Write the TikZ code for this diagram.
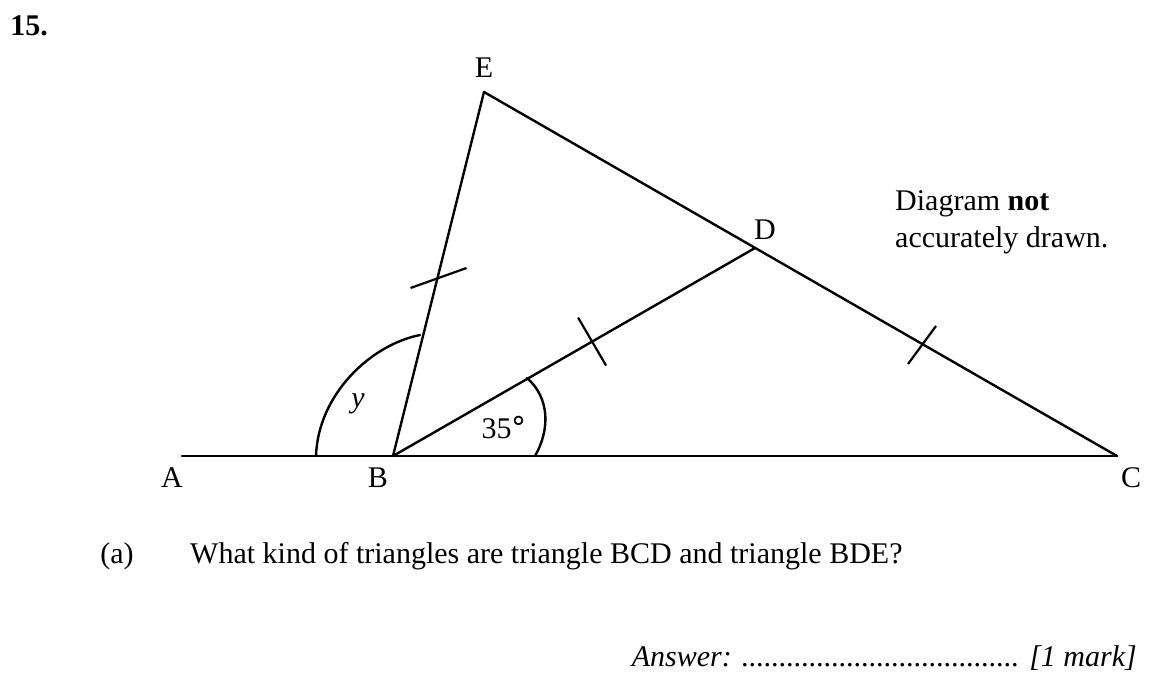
\documentclass[tikz,border=0pt]{standalone}
\usepackage{fontspec}
\setmainfont{Liberation Serif}
\newfontfamily\symfont{DejaVu Sans}
\usetikzlibrary{calc}
\tikzset{
  geo/.style={line width=2.4pt, line cap=round, line join=round},
  lbl/.style={font=\fontsize{30}{36}\selectfont, inner sep=0pt},
  tick/.style={line width=2.2pt},
}
\begin{document}
\begin{tikzpicture}[x=1pt,y=-1pt]
\useasboundingbox (0,0) rectangle (1165,697);
% points
\coordinate (A) at (182,456);
\coordinate (B) at (393,456);
\coordinate (C) at (1117,456);
\coordinate (D) at (755,248);
\coordinate (E) at (484,92);
% lines
\draw[geo] (A) -- (C);
\draw[geo] (B) -- (E) -- (C);
\draw[geo] (B) -- (D);
% ticks
\path (B) -- (E) coordinate[pos=0.5] (mBE);
\path (B) -- (D) coordinate[pos=0.55] (mBD);
\path (D) -- (C) coordinate[pos=0.5] (mDC);
\draw[tick] ($(mBE)+(-28,14)$) -- ($(mBE)+(28,-6)$);
\draw[tick] ($(mBD)+(-14,-24)$) -- ($(mBD)+(14,24)$);
\draw[tick] ($(mDC)+(-28,12)$) -- ($(mDC)+(0,-26)$);
% angle arcs
\draw[geo] (535,456) .. controls (550,430) and (550,398) .. (527,378);
\draw[geo] (316,456) .. controls (318,395) and (370,345) .. (420,335);
% labels
\node[lbl] (lA) at (172,478) {A};
\node[lbl] (lB) at (378,478) {B};
\node[lbl] (lC) at (1131,478) {C};
\node[lbl] (lD) at (765,230) {D};
\node[lbl] (lE) at (484,68) {E};
\node[lbl] (l35) at (504,428) {35\symfont °};
\node[lbl] (ly) at (358,404) {\itshape y};
\node[lbl, anchor=west] (note1) at (895,204) {Diagram \textbf{not}};
\node[lbl, anchor=west] (note2) at (895,240) {accurately drawn.};
\node[lbl] (num) at (29,26) {\textbf{15.}};
\node[lbl] (qa) at (117,556) {(a)};
\node[lbl, anchor=west] (q) at (190,556) {What kind of triangles are triangle BCD and triangle BDE?};
\node[lbl, anchor=east] (ans) at (1137,658) {\itshape Answer: ..................................... [1 mark]};
\end{tikzpicture}
\end{document}
